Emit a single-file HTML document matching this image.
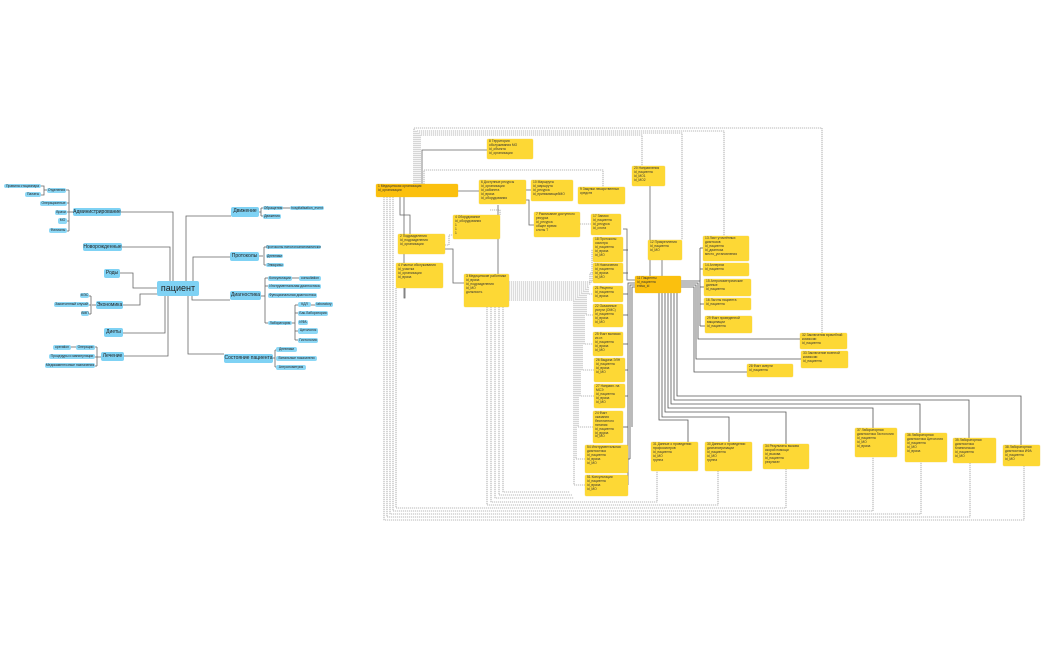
<!DOCTYPE html>
<html><head><meta charset="utf-8"><style>
body{margin:0;width:1050px;height:650px;background:#fff;position:relative;overflow:hidden;font-family:"Liberation Sans","DejaVu Sans",sans-serif}
.n{position:absolute;background:#8dd8f6;border-radius:2px;font-size:3.4px;line-height:5px;text-align:center;color:#222;white-space:nowrap;overflow:hidden}
.m{font-size:5px;line-height:9px;background:#7fd2f4}
.c{font-size:9px;line-height:15px;background:#7fd2f4}
.b{position:absolute;background:#fdd835;border-radius:1.5px;font-size:3.3px;line-height:3.9px;color:#333;padding:1px 2px;box-sizing:border-box;overflow:hidden;box-shadow:0 0 1px #e8c030}
.o{background:#fbc00e}
svg{position:absolute;left:0;top:0}
</style></head><body>
<svg width="1050" height="650" fill="none">
<g stroke="#666" stroke-width="0.8">
<!-- left mind map -->
<polyline points="121,212 173,212 173,281"/>
<polyline points="122,247 170,247 170,281"/>
<polyline points="120,273 133,273 133,288 157,288"/>
<polyline points="123,305 140,305 140,294 157,294"/>
<polyline points="123,333 165,333 165,296"/>
<polyline points="124,356 168,356 168,296"/>
<polyline points="186,281 186,216 231,216"/>
<polyline points="193,281 193,257 230,257"/>
<polyline points="192,296 192,300 230,300"/>
<polyline points="188,296 188,354 224,354"/>
<polyline points="73,212 69,212"/><polyline points="69,190 69,231"/>
<line x1="66" y1="190" x2="69" y2="190"/><line x1="67" y1="203" x2="69" y2="203"/><line x1="67" y1="212" x2="69" y2="212"/><line x1="67" y1="221" x2="69" y2="221"/><line x1="67" y1="231" x2="69" y2="231"/>
<polyline points="41,186 44,186 44,195 41,195"/><line x1="44" y1="190" x2="47" y2="190"/>
<line x1="259" y1="212" x2="261" y2="212"/><polyline points="261,208 261,216"/><line x1="261" y1="208" x2="263" y2="208"/><line x1="261" y1="216" x2="263" y2="216"/><line x1="283" y1="208" x2="290" y2="208"/>
<line x1="259" y1="256" x2="263" y2="256"/><polyline points="264,247 264,265"/><line x1="264" y1="247" x2="266" y2="247"/><line x1="264" y1="265" x2="266" y2="265"/>
<line x1="261" y1="296" x2="265" y2="296"/><polyline points="265,278 265,323"/><line x1="265" y1="278" x2="268" y2="278"/><line x1="265" y1="286" x2="268" y2="286"/><line x1="265" y1="323" x2="268" y2="323"/><line x1="292" y1="278" x2="299" y2="278"/>
<line x1="292" y1="323" x2="295" y2="323"/><polyline points="295,305 295,340"/><line x1="295" y1="305" x2="298" y2="305"/><line x1="295" y1="313" x2="298" y2="313"/><line x1="295" y1="331" x2="298" y2="331"/><line x1="295" y1="340" x2="298" y2="340"/><line x1="311" y1="305" x2="315" y2="305"/>
<line x1="273" y1="358" x2="275" y2="358"/><polyline points="275,350 275,367"/><line x1="275" y1="350" x2="276" y2="350"/><line x1="275" y1="367" x2="276" y2="367"/>
<line x1="96" y1="305" x2="92" y2="305"/><polyline points="91,296 91,314"/><line x1="89" y1="296" x2="91" y2="296"/><line x1="89" y1="305" x2="91" y2="305"/><line x1="89" y1="314" x2="91" y2="314"/>
<line x1="101" y1="357" x2="97" y2="357"/><polyline points="97,347 97,366"/><line x1="95" y1="347" x2="97" y2="347"/><line x1="95" y1="357" x2="97" y2="357"/><line x1="95" y1="366" x2="97" y2="366"/><line x1="71" y1="347" x2="76" y2="347"/>
</g>
<!-- right: dashed loops -->
<g stroke="#777" stroke-width="0.6" stroke-dasharray="1.2 0.8">
<polyline points="414,184 414,128 822,128 822,333"/>
<polyline points="416,184 416,131 724,131 724,236"/>
<polyline points="418,184 418,133 682,133 682,240"/>
<polyline points="420,184 420,135 642,135 642,166"/>
<polyline points="424,184 424,170 603,170 603,187"/>
<polyline points="500,215 500,210 490,210"/>
<polyline points="445,245 449,245 449,235 453,235"/>
<polyline points="580,224 591,224"/>
<polyline points="384,197 384,520 1024,520 1024,466"/>
<polyline points="387,197 387,517 970,517 970,463"/>
<polyline points="390,197 390,514 921,514 921,462"/>
<polyline points="393,197 393,511 873,511 873,457"/>
<polyline points="396,288 396,508 786,508 786,469"/>
<polyline points="487,307 487,505 718,505 718,471"/>
<polyline points="491,307 491,502 657,502 657,471"/>
<polyline points="509,282 592,282 592,250 593,250"/>
<polyline points="509,284 590,284 590,273 593,273"/>
<polyline points="509,286 588,286 588,294 593,294"/>
<polyline points="509,288 586,288 586,315 593,315"/>
<polyline points="509,290 584,290 584,344 593,344"/>
<polyline points="509,292 582,292 582,370 594,370"/>
<polyline points="509,294 580,294 580,396 594,396"/>
<polyline points="509,296 578,296 578,427 593,427"/>
<polyline points="509,298 576,298 576,459 585,459"/>
<polyline points="509,300 574,300 574,485 585,485"/>
<polyline points="495,307 495,498 574,498"/><polyline points="499,307 499,495 572,495"/><polyline points="503,307 503,492 570,492"/>
</g>
<g stroke="#666" stroke-width="0.8">
<polyline points="458,191 479,191"/>
<polyline points="422,184 422,150 507,150 507,159"/>
<polyline points="526,190 531,190"/>
<polyline points="526,200 529,200 529,225 534,225"/>
<polyline points="400,197 400,215 410,215 410,234"/>
<polyline points="445,249 453,249 453,283 464,283"/>
<polyline points="404,197 404,298 405,298 405,288"/>
<polyline points="498,274 498,205"/>
<polyline points="650,276 650,186"/>
<polyline points="662,276 662,260"/>
<polyline points="623,229 627,229 627,280 635,280"/>
</g>
<g stroke="#555" stroke-width="0.8">
<polyline points="635,283 628,283 628,485"/><polyline points="635,285 630,285 630,459"/><polyline points="635,287 632,287 632,427"/>
<line x1="623" y1="250" x2="628" y2="250"/><line x1="623" y1="273" x2="628" y2="273"/><line x1="623" y1="294" x2="628" y2="294"/><line x1="623" y1="315" x2="628" y2="315"/><line x1="623" y1="344" x2="628" y2="344"/><line x1="625" y1="370" x2="628" y2="370"/><line x1="625" y1="396" x2="628" y2="396"/><line x1="623" y1="427" x2="628" y2="427"/><line x1="628" y1="459" x2="630" y2="459"/><line x1="628" y1="485" x2="628" y2="485"/>
<polyline points="681,281 700,281 700,326"/><polyline points="681,283 698,283 698,339 800,339"/><polyline points="681,285 696,285 696,359 801,359"/><polyline points="681,287 694,287 694,372 747,372"/>
<line x1="700" y1="248" x2="703" y2="248"/><polyline points="700,281 700,248"/><line x1="700" y1="269" x2="703" y2="269"/><line x1="700" y1="287" x2="704" y2="287"/><line x1="700" y1="304" x2="704" y2="304"/><line x1="700" y1="326" x2="705" y2="326"/>
<polyline points="677,293 677,396 1021,396 1021,445"/>
<polyline points="674,293 674,400 969,400 969,438"/>
<polyline points="671,293 671,404 920,404 920,433"/>
<polyline points="668,293 668,408 873,408 873,428"/>
<polyline points="665,293 665,412 786,412 786,444"/>
<polyline points="662,293 662,417 729,417 729,442"/>
<polyline points="659,293 659,420 688,420 688,442"/>
</g>
</svg>
<!-- left mind map nodes -->
<div class="n c" style="left:157px;top:281px;width:42px;height:15px">пациент</div>
<div class="n m" style="left:73px;top:208px;width:48px;height:8px">Администрирование</div>
<div class="n m" style="left:83px;top:243px;width:39px;height:8px">Новорожденные</div>
<div class="n m" style="left:104px;top:269px;width:16px;height:9px">Роды</div>
<div class="n m" style="left:96px;top:301px;width:27px;height:8px">Экономика</div>
<div class="n m" style="left:104px;top:328px;width:19px;height:9px">Диеты</div>
<div class="n m" style="left:101px;top:352px;width:23px;height:9px">Лечение</div>
<div class="n m" style="left:231px;top:207px;width:28px;height:10px">Движение</div>
<div class="n m" style="left:230px;top:252px;width:29px;height:9px">Протоколы</div>
<div class="n m" style="left:230px;top:291px;width:31px;height:9px">Диагностика</div>
<div class="n m" style="left:224px;top:354px;width:49px;height:9px">Состояние пациента</div>
<div class="n" style="left:47px;top:188px;width:19px;height:5px">Отделения</div>
<div class="n" style="left:4px;top:184px;width:37px;height:4px">Правила стационара</div>
<div class="n" style="left:25px;top:192px;width:16px;height:5px">Палаты</div>
<div class="n" style="left:40px;top:201px;width:27px;height:5px">Операционные</div>
<div class="n" style="left:55px;top:210px;width:12px;height:5px">Врачи</div>
<div class="n" style="left:58px;top:218px;width:9px;height:6px">МО</div>
<div class="n" style="left:49px;top:228px;width:18px;height:5px">Филиалы</div>
<div class="n" style="left:263px;top:206px;width:20px;height:4px">Обращения</div>
<div class="n" style="left:290px;top:206px;width:34px;height:4px">hospitalisation_event</div>
<div class="n" style="left:263px;top:214px;width:18px;height:5px">Движения</div>
<div class="n" style="left:266px;top:245px;width:55px;height:4px">Протоколы патологоанатомического</div>
<div class="n" style="left:266px;top:254px;width:17px;height:4px">Дневники</div>
<div class="n" style="left:266px;top:263px;width:18px;height:4px">Эпикризы</div>
<div class="n" style="left:268px;top:276px;width:24px;height:5px">Консультации</div>
<div class="n" style="left:299px;top:276px;width:22px;height:5px">consultation</div>
<div class="n" style="left:268px;top:284px;width:53px;height:5px">Инструментальная диагностика</div>
<div class="n" style="left:268px;top:293px;width:49px;height:5px">Функциональная диагностика</div>
<div class="n" style="left:268px;top:321px;width:24px;height:4px">Лаборатория</div>
<div class="n" style="left:298px;top:302px;width:13px;height:5px">КДЛ</div>
<div class="n" style="left:315px;top:302px;width:18px;height:5px">laboratory</div>
<div class="n" style="left:298px;top:311px;width:30px;height:5px">Бак.Лаборатория</div>
<div class="n" style="left:298px;top:320px;width:10px;height:5px">ИФА</div>
<div class="n" style="left:298px;top:328px;width:20px;height:6px">Цитология</div>
<div class="n" style="left:298px;top:338px;width:20px;height:5px">Гистология</div>
<div class="n" style="left:276px;top:347px;width:21px;height:5px">Дневники</div>
<div class="n" style="left:276px;top:356px;width:41px;height:5px">Витальные показатели</div>
<div class="n" style="left:276px;top:365px;width:30px;height:5px">Антропометрия</div>
<div class="n" style="left:80px;top:293px;width:9px;height:5px">МЭС</div>
<div class="n" style="left:54px;top:302px;width:35px;height:5px">Законченный случай</div>
<div class="n" style="left:81px;top:311px;width:8px;height:5px">ВМП</div>
<div class="n" style="left:76px;top:345px;width:19px;height:5px">Операции</div>
<div class="n" style="left:53px;top:345px;width:18px;height:5px">operation</div>
<div class="n" style="left:49px;top:354px;width:46px;height:5px">Процедуры и манипуляции</div>
<div class="n" style="left:45px;top:363px;width:50px;height:5px">Медикаментозные назначения</div>
<!-- right diagram boxes -->
<div class="b o" style="left:376px;top:184px;width:82px;height:13px">1 Медицинская организация<br>id_организации</div>
<div class="b" style="left:487px;top:139px;width:46px;height:20px">8 Территория обслуживания МО<br>id_объекта<br>id_организации</div>
<div class="b" style="left:479px;top:180px;width:47px;height:24px">6 Доступные ресурсы<br>id_организации<br>id_кабинета<br>id_врача<br>id_оборудования</div>
<div class="b" style="left:531px;top:180px;width:42px;height:21px">10 Маршруты<br>id_маршрута<br>id_ресурса<br>id_принимающейМО</div>
<div class="b" style="left:578px;top:187px;width:47px;height:17px">9 Закупки лекарственных средств</div>
<div class="b" style="left:632px;top:166px;width:33px;height:20px">20 Направления<br>id_пациента<br>id_MO1<br>id_MO2</div>
<div class="b" style="left:453px;top:215px;width:47px;height:24px">4 Оборудование<br>id_оборудования<br>1<br>1<br>1</div>
<div class="b" style="left:534px;top:212px;width:46px;height:25px">7 Расписание доступного ресурса<br>id_ресурса<br>общее время<br>слоты T</div>
<div class="b" style="left:591px;top:214px;width:30px;height:21px">17 Записи<br>id_пациента<br>id_ресурса<br>id_слота</div>
<div class="b" style="left:398px;top:234px;width:47px;height:20px">2 Подразделения<br>id_подразделения<br>id_организации</div>
<div class="b" style="left:396px;top:263px;width:47px;height:25px">4 Участки обслуживания<br>id_участка<br>id_организации<br>id_врача</div>
<div class="b" style="left:464px;top:274px;width:45px;height:33px">3 Медицинские работники<br>id_врача<br>id_подразделения<br>id_МО<br>должность</div>
<div class="b" style="left:593px;top:237px;width:30px;height:25px">18 Протоколы осмотра<br>id_пациента<br>id_врача<br>id_МО</div>
<div class="b" style="left:593px;top:263px;width:30px;height:20px">19 Назначения<br>id_пациента<br>id_врача<br>id_МО</div>
<div class="b" style="left:593px;top:286px;width:30px;height:16px">21 Рецепты<br>id_пациента<br>id_врача</div>
<div class="b" style="left:593px;top:304px;width:30px;height:23px">22 Оказанные услуги (ОМС)<br>id_пациента<br>id_врача<br>id_МО</div>
<div class="b" style="left:593px;top:332px;width:30px;height:24px">25 Факт выписки из ст.<br>id_пациента<br>id_врача<br>id_МО</div>
<div class="b" style="left:594px;top:358px;width:31px;height:24px">26 Выдача ЭЛН<br>id_пациента<br>id_врача<br>id_МО</div>
<div class="b" style="left:594px;top:384px;width:31px;height:24px">27 Направл. на МСЭ<br>id_пациента<br>id_врача<br>id_МО</div>
<div class="b" style="left:593px;top:411px;width:30px;height:32px">24 Факт оказания бесплатного питания<br>id_пациента<br>id_врача<br>id_МО</div>
<div class="b" style="left:585px;top:445px;width:43px;height:28px">54 Инструментальная диагностика<br>id_пациента<br>id_врача<br>id_МО</div>
<div class="b" style="left:585px;top:475px;width:43px;height:21px">51 Консультации<br>id_пациента<br>id_врача<br>id_МО</div>
<div class="b" style="left:648px;top:240px;width:34px;height:20px">12 Прикрепления<br>id_пациента<br>id_МО</div>
<div class="b o" style="left:635px;top:276px;width:46px;height:17px">11 Пациенты<br>id_пациента<br>enlsa_id</div>
<div class="b" style="left:703px;top:236px;width:46px;height:25px">13 Лист уточнённых диагнозов<br>id_пациента<br>id_диагноза<br>место_установления</div>
<div class="b" style="left:703px;top:263px;width:46px;height:13px">14 Аллергии<br>id_пациента</div>
<div class="b" style="left:704px;top:279px;width:47px;height:17px">15 Антропометрические данные<br>id_пациента</div>
<div class="b" style="left:704px;top:298px;width:47px;height:12px">16 Льготы пациента<br>id_пациента</div>
<div class="b" style="left:705px;top:316px;width:47px;height:17px">29 Факт проведенной вакцинации<br>id_пациента</div>
<div class="b" style="left:800px;top:333px;width:47px;height:16px">32 Заключения врачебной комиссии<br>id_пациента</div>
<div class="b" style="left:801px;top:351px;width:47px;height:17px">33 Заключение военной комиссии<br>id_пациента</div>
<div class="b" style="left:747px;top:364px;width:46px;height:13px">28 Факт смерти<br>id_пациента</div>
<div class="b" style="left:651px;top:442px;width:47px;height:29px">31 Данные о проведении профосмотров<br>id_пациента<br>id_МО<br>группа</div>
<div class="b" style="left:705px;top:442px;width:47px;height:29px">30 Данные о проведении диспансеризации<br>id_пациента<br>id_МО<br>группа</div>
<div class="b" style="left:763px;top:444px;width:46px;height:25px">34 Результаты вызова скорой помощи<br>id_вызова<br>id_пациента<br>результат</div>
<div class="b" style="left:855px;top:428px;width:42px;height:29px">37 Лабораторная диагностика Гистология<br>id_пациента<br>id_МО<br>id_врача</div>
<div class="b" style="left:905px;top:433px;width:42px;height:29px">36 Лабораторная диагностика Цитология<br>id_пациента<br>id_МО<br>id_врача</div>
<div class="b" style="left:953px;top:438px;width:43px;height:25px">35 Лабораторная диагностика Клиническая<br>id_пациента<br>id_МО</div>
<div class="b" style="left:1003px;top:445px;width:37px;height:21px">38 Лабораторная диагностика ИФА<br>id_пациента<br>id_МО</div>
</body></html>
